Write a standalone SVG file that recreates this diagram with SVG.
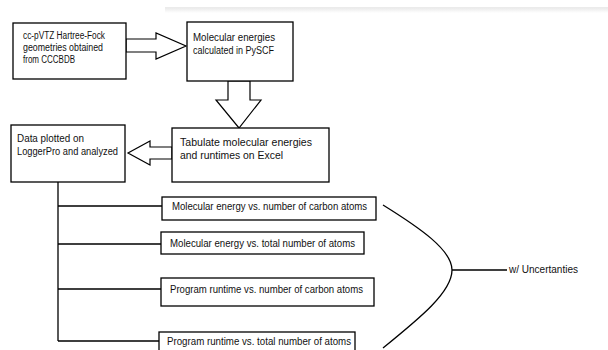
<svg xmlns="http://www.w3.org/2000/svg" width="608" height="350" viewBox="0 0 608 350">
<defs>
<linearGradient id="sh" x1="0" y1="0" x2="0" y2="1">
<stop offset="0" stop-color="#e6e6e6"/>
<stop offset="1" stop-color="#ffffff"/>
</linearGradient>
<style>
.box{fill:#fff;stroke:#000;stroke-width:1.3}
.blk{fill:#fff;stroke:#000;stroke-width:1.2;stroke-linejoin:miter}
.ln{fill:none;stroke:#000;stroke-width:1.3}
text{font-family:"Liberation Sans",Arial,sans-serif;font-size:10px;fill:#111}
</style>
</defs>
<rect width="608" height="350" fill="#fff"/>
<rect x="165" y="7" width="443" height="6" fill="url(#sh)"/>
<line x1="165" y1="7.5" x2="608" y2="7.5" stroke="#ebebeb" stroke-width="1"/>

<g id="connectors">
<polygon class="blk" points="126,39 156,39 156,33 186,46 156,59 156,52 126,52"/>
<polygon class="blk" points="228,81 250,81 250,100 261,100 239,128 216,100 228,100"/>
<polygon class="blk" points="172,147 150,147 150,141 128,153 150,165 150,159 172,159"/>
<path class="ln" d="M58,182 V341 M58,206 H162 M58,244 H161 M58,289 H161 M58,341 H159"/>
<path class="ln" d="M383,205 C420,228 452,250 452,270 C452,292 420,318 383,348 M452,270 H507"/>
</g>

<g id="n1">
<rect class="box" x="13" y="23" width="113" height="56"/>
<text x="23" y="39" textLength="82" lengthAdjust="spacingAndGlyphs">cc-pVTZ Hartree-Fock</text>
<text x="23" y="51" textLength="80" lengthAdjust="spacingAndGlyphs">geometries obtained</text>
<text x="23" y="63" textLength="52" lengthAdjust="spacingAndGlyphs">from CCCBDB</text>
</g>
<g id="n2">
<rect class="box" x="187" y="22" width="106" height="59"/>
<text x="193" y="41" textLength="82" lengthAdjust="spacingAndGlyphs">Molecular energies</text>
<text x="193" y="54" textLength="81" lengthAdjust="spacingAndGlyphs">calculated in PySCF</text>
</g>
<g id="n3">
<rect class="box" x="172" y="128" width="157" height="54"/>
<text x="180" y="146" textLength="132" lengthAdjust="spacingAndGlyphs">Tabulate molecular energies</text>
<text x="180" y="159" textLength="103" lengthAdjust="spacingAndGlyphs">and runtimes on Excel</text>
</g>
<g id="n4">
<rect class="box" x="11" y="125" width="114" height="57"/>
<text x="17" y="142" textLength="67" lengthAdjust="spacingAndGlyphs">Data plotted on</text>
<text x="17" y="155" textLength="101" lengthAdjust="spacingAndGlyphs">LoggerPro and analyzed</text>
</g>
<g id="n5">
<rect class="box" x="162" y="197" width="214" height="23"/>
<text x="172" y="210" textLength="195" lengthAdjust="spacingAndGlyphs">Molecular energy vs. number of carbon atoms</text>
</g>
<g id="n6">
<rect class="box" x="161" y="232" width="203" height="22"/>
<text x="170" y="247" textLength="185" lengthAdjust="spacingAndGlyphs">Molecular energy vs. total number of atoms</text>
</g>
<g id="n7">
<rect class="box" x="161" y="278" width="213" height="28"/>
<text x="170" y="293" textLength="193" lengthAdjust="spacingAndGlyphs">Program runtime vs. number of carbon atoms</text>
</g>
<g id="n8">
<rect class="box" x="159" y="332" width="196" height="25"/>
<text x="167" y="345" textLength="184" lengthAdjust="spacingAndGlyphs">Program runtime vs. total number of atoms</text>
</g>
<g id="n9">
<text x="509" y="273" textLength="69" lengthAdjust="spacingAndGlyphs">w/ Uncertanties</text>
</g>
</svg>
